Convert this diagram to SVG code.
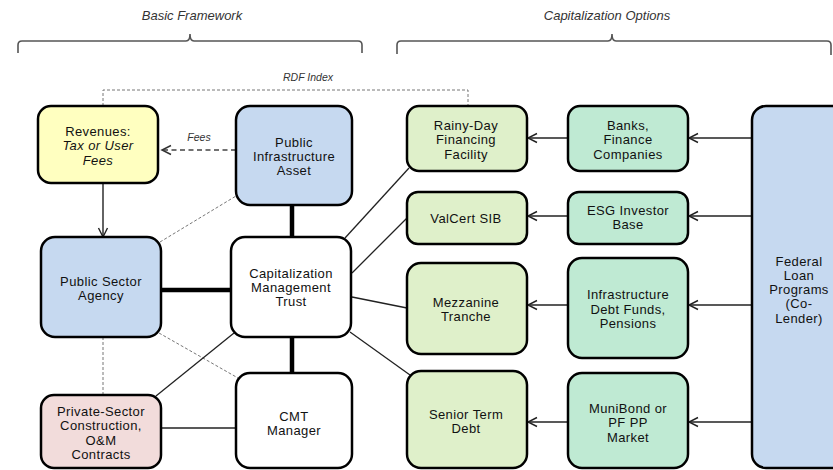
<svg xmlns="http://www.w3.org/2000/svg" width="833" height="470" viewBox="0 0 833 470">
<style>
.box{stroke:#000;stroke-width:2.5}
.blue{fill:#c6d9f0}.yel{fill:#ffffc0}.pink{fill:#f2dcdb}.white{fill:#fff}.lg{fill:#dff0ca}.mint{fill:#bfead3}
text{font-family:"Liberation Sans",Arial,sans-serif;font-size:13px;fill:#111;text-anchor:middle;letter-spacing:0.4px}
.it{font-style:italic}
.hdr{font-size:13px;font-style:italic;fill:#333;letter-spacing:0}
.sm{font-size:10.5px;font-style:italic;fill:#333;letter-spacing:0}
.thick{stroke:#000;stroke-width:4.5;fill:none}
.thin{stroke:#222;stroke-width:1.3;fill:none}
.dot{stroke:#777;stroke-width:1;stroke-dasharray:3,2;fill:none}
.arr{stroke:#222;stroke-width:1.4;fill:none;marker-end:url(#ah)}
.brace{stroke:#555;stroke-width:1.6;fill:none}
</style>
<defs>
<marker id="ah" markerWidth="12" markerHeight="12" refX="10" refY="6" orient="auto" markerUnits="userSpaceOnUse">
<path d="M1,1.5 L10,6 L1,10.5" fill="none" stroke="#222" stroke-width="1.4"/>
</marker>
<marker id="ahd" markerWidth="12" markerHeight="12" refX="10" refY="6" orient="auto" markerUnits="userSpaceOnUse">
<path d="M1,1.5 L10,6 L1,10.5" fill="none" stroke="#333" stroke-width="1.5"/>
</marker>
</defs>

<g id="headers">
<text class="hdr" x="192" y="19.5">Basic Framework</text>
<path class="brace" d="M18,53 L18,45 Q18,41 22,41 L186,41 Q190,41 190,34 Q190,41 194,41 L358,41 Q362,41 362,45 L362,53"/>
<text class="hdr" x="607" y="19.5">Capitalization Options</text>
<path class="brace" d="M397,54 L397,45 Q397,41 401,41 L608,41 Q612,41 612,34 Q612,41 616,41 L827,41 Q831,41 831,45 L831,55"/>
</g>

<g id="connectors">
<path class="dot" d="M103,106 L103,90 L468,90 L468,106"/>
<text class="sm" x="308" y="81">RDF Index</text>
<line x1="236" y1="150" x2="162" y2="150" stroke="#444" stroke-width="1.4" stroke-dasharray="5,3.5" marker-end="url(#ahd)"/>
<text class="sm" x="199" y="140.5">Fees</text>
<line class="arr" x1="103" y1="183" x2="103" y2="237"/>
<line class="dot" x1="160" y1="242" x2="236" y2="196"/>
<line class="dot" x1="103" y1="337" x2="103" y2="395"/>
<line class="dot" x1="159" y1="333" x2="238" y2="378"/>
<line class="thick" x1="161" y1="290" x2="231" y2="290"/>
<line class="thick" x1="292" y1="205" x2="292" y2="237"/>
<line class="thick" x1="292" y1="337" x2="292" y2="373"/>
<line class="thin" x1="161" y1="428" x2="236" y2="428"/>
<line class="thin" x1="156" y1="396" x2="234" y2="333"/>
<line class="thin" x1="345" y1="238" x2="409" y2="168"/>
<line class="thin" x1="352" y1="273" x2="408" y2="217"/>
<line class="thin" x1="352" y1="297" x2="407" y2="308"/>
<line class="thin" x1="350" y1="332" x2="410" y2="375"/>
<line class="arr" x1="568" y1="138" x2="528" y2="138"/>
<line class="arr" x1="568" y1="216" x2="528" y2="216"/>
<line class="arr" x1="568" y1="305" x2="528" y2="305"/>
<line class="arr" x1="568" y1="422" x2="528" y2="422"/>
<line class="arr" x1="752" y1="138" x2="689" y2="138"/>
<line class="arr" x1="752" y1="216" x2="689" y2="216"/>
<line class="arr" x1="752" y1="305" x2="689" y2="305"/>
<line class="arr" x1="752" y1="422" x2="689" y2="422"/>
</g>

<g id="revenues">
<rect class="box yel" x="38" y="106" width="120" height="77" rx="13"/>
<text x="98" y="136">Revenues:</text>
<text class="it" x="98" y="150">Tax or User</text>
<text class="it" x="98" y="164.5">Fees</text>
</g>
<g id="pia">
<rect class="box blue" x="236" y="106" width="116" height="99" rx="14"/>
<text x="294" y="146.5">Public</text>
<text x="294" y="160.5">Infrastructure</text>
<text x="294" y="174.5">Asset</text>
</g>
<g id="psa">
<rect class="box blue" x="41" y="237" width="120" height="100" rx="14"/>
<text x="101" y="285.5">Public Sector</text>
<text x="101" y="299.5">Agency</text>
</g>
<g id="cmt">
<rect class="box white" x="231" y="237" width="120" height="100" rx="14"/>
<text x="291" y="277.5">Capitalization</text>
<text x="291" y="291.5">Management</text>
<text x="291" y="306">Trust</text>
</g>
<g id="cmtmanager">
<rect class="box white" x="236" y="373" width="116" height="95" rx="14"/>
<text x="294" y="420.5">CMT</text>
<text x="294" y="434.5">Manager</text>
</g>
<g id="private">
<rect class="box pink" x="41" y="395" width="120" height="73" rx="13"/>
<text x="101" y="416">Private-Sector</text>
<text x="101" y="430">Construction,</text>
<text x="101" y="444.5">O&amp;M</text>
<text x="101" y="459">Contracts</text>
</g>
<g id="rainyday">
<rect class="box lg" x="407" y="106" width="120" height="65" rx="12"/>
<text x="466" y="129.5">Rainy-Day</text>
<text x="466" y="143.5">Financing</text>
<text x="466" y="158.5">Facility</text>
</g>
<g id="valcert">
<rect class="box lg" x="407" y="192" width="120" height="52" rx="11"/>
<text x="466" y="222.5">ValCert SIB</text>
</g>
<g id="mezzanine">
<rect class="box lg" x="407" y="263" width="120" height="91" rx="14"/>
<text x="466" y="306.5">Mezzanine</text>
<text x="466" y="321">Tranche</text>
</g>
<g id="senior">
<rect class="box lg" x="407" y="371" width="120" height="97" rx="14"/>
<text x="466" y="418.5">Senior Term</text>
<text x="466" y="432.5">Debt</text>
</g>
<g id="banks">
<rect class="box mint" x="568" y="106" width="120" height="65" rx="12"/>
<text x="628" y="129.5">Banks,</text>
<text x="628" y="143.5">Finance</text>
<text x="628" y="158.5">Companies</text>
</g>
<g id="esg">
<rect class="box mint" x="568" y="192" width="120" height="52" rx="11"/>
<text x="628" y="214.5">ESG Investor</text>
<text x="628" y="228.5">Base</text>
</g>
<g id="infradebt">
<rect class="box mint" x="568" y="258" width="120" height="100" rx="14"/>
<text x="628" y="298.5">Infrastructure</text>
<text x="628" y="313.5">Debt Funds,</text>
<text x="628" y="328">Pensions</text>
</g>
<g id="munibond">
<rect class="box mint" x="568" y="373" width="120" height="95" rx="14"/>
<text x="628" y="412.5">MuniBond or</text>
<text x="628" y="426.5">PF PP</text>
<text x="628" y="441.5">Market</text>
</g>
<g id="federal">
<rect class="box blue" x="752" y="106" width="100" height="362" rx="14"/>
<text x="799" y="265.5">Federal</text>
<text x="799" y="279.5">Loan</text>
<text x="799" y="293.5">Programs</text>
<text x="799" y="307.5">(Co-</text>
<text x="799" y="322.5">Lender)</text>
</g>
</svg>
